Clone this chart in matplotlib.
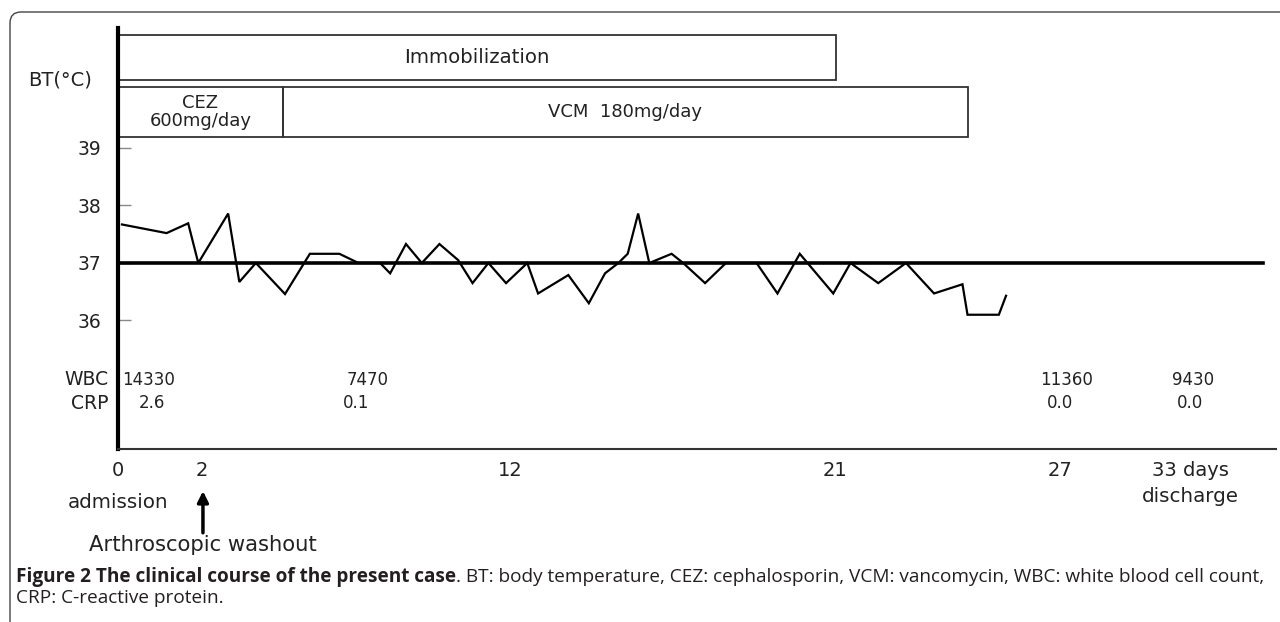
import matplotlib
matplotlib.use("Agg")
import matplotlib.pyplot as plt
import matplotlib.transforms as mtransforms
from matplotlib.patches import Rectangle, FancyBboxPatch

plt.rcParams['font.family'] = ['DejaVu Sans']

# ---------------- data ----------------
# body temperature course (time position on the chart timeline, temperature in °C)
bt_time = [0.11, 1.35, 1.95, 2.23, 3.06, 3.37, 3.83, 4.64, 5.33, 6.15,
           6.68, 7.28, 7.56, 8.0, 8.44, 8.93, 9.45, 9.85, 10.29, 10.78,
           11.37, 11.67, 12.51, 13.08, 13.53, 13.9, 14.16, 14.45, 14.76, 15.38,
           15.7, 16.31, 16.89, 17.74, 18.32, 18.94, 19.87, 20.35, 21.12, 21.89,
           22.67, 23.46, 23.6, 24.47, 24.67]
bt_temp = [37.67, 37.52, 37.69, 37.0, 37.86, 36.67, 37.0, 36.46, 37.16, 37.16,
           37.0, 37.0, 36.82, 37.33, 37.0, 37.33, 37.05, 36.65, 37.0, 36.65,
           37.0, 36.47, 36.79, 36.3, 36.82, 37.0, 37.16, 37.86, 37.0, 37.16,
           37.0, 36.65, 37.0, 37.0, 36.47, 37.16, 36.47, 37.0, 36.65, 37.0,
           36.47, 36.63, 36.1, 36.1, 36.43]
reference_temp = 37.0

# treatment periods: (label, start, end)
immobilization = ("Immobilization", 0.0, 19.94)
antibiotics = [("CEZ\n600mg/day", 0.0, 4.58),
               ("VCM  180mg/day", 4.58, 23.61)]

# lab values
wbc_time = [0.86, 6.94, 26.36, 29.86]
wbc_vals = ["14330", "7470", "11360", "9430"]
crp_time = [0.94, 6.61, 26.17, 29.78]
crp_vals = ["2.6", "0.1", "0.0", "0.0"]

# timeline tick labels
day_ticks = [0.0, 2.33, 10.89, 19.92, 26.17, 29.78]
day_labels = ["0", "2", "12", "21", "27", "33 days"]
event_admission = 0.0
event_washout = 2.36
event_discharge = 29.78

y_ticks = [36, 37, 38, 39]

# ---------------- figure ----------------
W, H = 1280, 622
fig = plt.figure(figsize=(W / 100, H / 100), dpi=100)

# rounded frame (display pixels, origin bottom-left)
frame = FancyBboxPatch((10, -40), 1320, H - 12 + 40,
                       boxstyle="round,pad=0,rounding_size=11",
                       transform=mtransforms.IdentityTransform(), fill=False,
                       edgecolor="#444444", linewidth=1.0, clip_on=False)
fig.patches.append(frame)

ax = fig.add_axes([118 / W, 1 - 449 / H, 1158 / W, 421 / H])
ax.set_xlim(0, 32.17)
ax.set_ylim(33.765, 41.087)

for s in ("top", "right"):
    ax.spines[s].set_visible(False)
ax.spines["left"].set_linewidth(3.0)
ax.spines["left"].set_color("black")
ax.spines["bottom"].set_linewidth(1.5)
ax.spines["bottom"].set_color("#333333")

ax.set_yticks(y_ticks)
ax.set_yticklabels([str(v) for v in y_ticks], fontsize=13.5, color="#222222")
ax.tick_params(axis="y", direction="in", length=9, width=1.0, color="#888888", pad=12)

ax.set_xticks(day_ticks)
ax.set_xticklabels(day_labels, fontsize=14, color="#222222")
ax.tick_params(axis="x", length=0, pad=9)

# reference 37 line
ax.axhline(reference_temp, xmin=0, xmax=(1263 - 118) / 1158, color="black",
           linewidth=2.6, zorder=3)
# temperature line
ax.plot(bt_time, bt_temp, color="black", linewidth=1.6, zorder=4,
        solid_joinstyle="miter")

# treatment boxes
lab, x0, x1 = immobilization
ax.add_patch(Rectangle((x0, 40.183), x1 - x0, 40.965 - 40.183, fill=False,
                       edgecolor="#333333", linewidth=1.3, zorder=2))
ax.text((x0 + x1) / 2, (40.183 + 40.965) / 2, lab, ha="center", va="center",
        fontsize=14.2, color="#222222")
for lab, x0, x1 in antibiotics:
    ax.add_patch(Rectangle((x0, 39.19), x1 - x0, 40.06 - 39.19, fill=False,
                           edgecolor="#333333", linewidth=1.3, zorder=2))
    ax.text((x0 + x1) / 2, (39.19 + 40.06) / 2, lab, ha="center", va="center",
            fontsize=13.0, color="#222222", linespacing=0.95)

bt = mtransforms.blended_transform_factory(ax.transData, ax.transAxes)
ta = ax.transAxes

# lab rows
ax.text(-0.0086, 0.164, "WBC", transform=ta, ha="right", va="center",
        fontsize=13.5, color="#222222")
ax.text(-0.0086, 0.109, "CRP", transform=ta, ha="right", va="center",
        fontsize=13.5, color="#222222")
for t, v in zip(wbc_time, wbc_vals):
    ax.text(t, 0.164, v, transform=bt, ha="center", va="center",
            fontsize=12, color="#222222")
for t, v in zip(crp_time, crp_vals):
    ax.text(t, 0.109, v, transform=bt, ha="center", va="center",
            fontsize=12, color="#222222")

ax.text(-0.050, 0.876, "BT(°C)", transform=ta, ha="center", va="center",
        fontsize=14, color="#222222")

# events below the timeline
ax.text(event_admission, -0.126, "admission", transform=bt, ha="center",
        va="center", fontsize=14.3, color="#222222", clip_on=False)
ax.text(event_discharge, -0.114, "discharge", transform=bt, ha="center",
        va="center", fontsize=14.3, color="#222222", clip_on=False)
ax.annotate("", xy=(event_washout, -0.100), xytext=(event_washout, -0.199),
            xycoords=bt, textcoords=bt,
            arrowprops=dict(arrowstyle="-|>", color="black", lw=2.5,
                            mutation_scale=16, shrinkA=0, shrinkB=0),
            annotation_clip=False)
ax.text(event_washout, -0.228, "Arthroscopic washout", transform=bt,
        ha="center", va="center", fontsize=15.2, color="#222222", clip_on=False)

# caption
cap_bold = "Figure 2 The clinical course of the present case"
cap_rest = ". BT: body temperature, CEZ: cephalosporin, VCM: vancomycin, WBC: white blood cell count,"
cap2 = "CRP: C-reactive protein."
cap_family = ["Open Sans", "DejaVu Sans"]
fig.canvas.draw()
r = fig.canvas.get_renderer()

def measure(fs):
    a = fig.text(0, 0, cap_bold, fontsize=fs, fontweight="bold", family=cap_family)
    b = fig.text(0, 0, cap_rest, fontsize=fs, family=cap_family)
    w = a.get_window_extent(renderer=r).width + b.get_window_extent(renderer=r).width
    a.remove(); b.remove()
    return w

base = 11.7
cap_fs = base * (1255.0 / measure(base))

t1 = fig.text(16 / W, 1 - 577 / H, cap_bold, fontsize=cap_fs, fontweight="bold",
              family=cap_family, color="#231f20", ha="left", va="center")
bb = t1.get_window_extent(renderer=r)
fig.text(bb.x1 / W, 1 - 577 / H, cap_rest, fontsize=cap_fs,
         family=cap_family, color="#231f20", ha="left", va="center")
fig.text(16 / W, 1 - 598 / H, cap2, fontsize=cap_fs,
         family=cap_family, color="#231f20", ha="left", va="center")

fig.savefig("out.png", dpi=100)
